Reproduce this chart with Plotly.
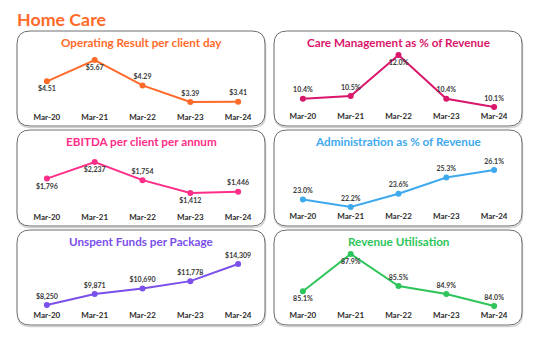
import plotly.graph_objects as go

W, H = 535, 341

# ---- data ----
periods = ["Mar-20", "Mar-21", "Mar-22", "Mar-23", "Mar-24"]
operating_result = [4.51, 5.67, 4.29, 3.39, 3.41]
care_mgmt_pct = [10.4, 10.5, 12.0, 10.4, 10.1]
ebitda = [1796, 2237, 1754, 1412, 1446]
admin_pct = [23.0, 22.2, 23.6, 25.3, 26.1]
unspent = [8250, 9871, 10690, 11778, 14309]
rev_util = [85.1, 87.9, 85.5, 84.9, 84.0]

FONT = "Lato"
TICK_COLOR = "#2b2b2b"
LABEL_COLOR = "#3a3a3a"

def dollars2(v):
    return f"${v:,.2f}"

def dollars0(v):
    return f"${v:,.0f}"

def pct(v):
    return f"{v:.1f}%"

T, B = "top center", "bottom center"

# panel layout (pixel geometry): column, box rows, extreme-point pixel rows, tick label row
panels = [
    dict(title="Operating Result per client day", vals=operating_result, fmt=dollars2,
         color="#FF6A2A", col=0, box=(31, 126), hi=60, lo=102, tick=117,
         pos=[B, B, T, T, T]),
    dict(title="Care Management as % of Revenue", vals=care_mgmt_pct, fmt=pct,
         color="#D9166A", col=1, box=(31, 126), hi=55, lo=107, tick=116,
         pos=[T, T, B, T, T]),
    dict(title="EBITDA per client per annum", vals=ebitda, fmt=dollars0,
         color="#FF2E88", col=0, box=(130, 226), hi=162, lo=193, tick=217,
         pos=[B, B, T, B, T]),
    dict(title="Administration as % of Revenue", vals=admin_pct, fmt=pct,
         color="#3FA9EE", col=1, box=(130, 226), hi=170, lo=207, tick=216,
         pos=[T, T, T, T, T]),
    dict(title="Unspent Funds per Package", vals=unspent, fmt=dollars0,
         color="#7A4FEA", col=0, box=(230, 325), hi=264, lo=305, tick=315,
         pos=[T, T, T, T, T]),
    dict(title="Revenue Utilisation", vals=rev_util, fmt=pct,
         color="#2DC55A", col=1, box=(230, 325), hi=254, lo=306, tick=315,
         pos=[B, B, T, T, T]),
]

COL_BOX = [(17, 265), (274, 522)]
COL_PLOT = [(23, 262), (279, 518)]

def px(x):
    return x / W

def py(y):
    return 1 - y / H

def rounded_rect(x0, y0, x1, y1, r):
    rx, ry = r / W, r / H
    X0, X1 = px(x0), px(x1)
    Y0, Y1 = py(y1), py(y0)  # bottom, top in paper units
    return (f"M {X0 + rx},{Y0} L {X1 - rx},{Y0} Q {X1},{Y0} {X1},{Y0 + ry} "
            f"L {X1},{Y1 - ry} Q {X1},{Y1} {X1 - rx},{Y1} "
            f"L {X0 + rx},{Y1} Q {X0},{Y1} {X0},{Y1 - ry} "
            f"L {X0},{Y0 + ry} Q {X0},{Y0} {X0 + rx},{Y0} Z")

fig = go.Figure()
shapes, annotations = [], []

for i, p in enumerate(panels, start=1):
    xa = "x" if i == 1 else f"x{i}"
    ya = "y" if i == 1 else f"y{i}"
    vals = p["vals"]
    vmin, vmax = min(vals), max(vals)
    top = p["hi"] - 8
    bottom = p["lo"] + 3
    upp = (vmax - vmin) / (p["lo"] - p["hi"])
    r1 = vmax + (p["hi"] - top) * upp
    r0 = vmin - (bottom - p["lo"]) * upp
    standoff = max(0, int(round(p["tick"] - bottom - 6)))

    fig.add_trace(go.Scatter(
        x=periods, y=vals, xaxis=xa, yaxis=ya,
        mode="lines+markers+text",
        line=dict(color=p["color"], width=2),
        marker=dict(color=p["color"], size=6),
        text=[p["fmt"](v) for v in vals],
        textposition=p["pos"],
        textfont=dict(family=FONT, size=7, color=LABEL_COLOR, weight="bold"),
        cliponaxis=False, showlegend=False, hoverinfo="skip",
    ))

    cx0, cx1 = COL_PLOT[p["col"]]
    xkey = "xaxis" if i == 1 else f"xaxis{i}"
    ykey = "yaxis" if i == 1 else f"yaxis{i}"
    fig.update_layout({
        xkey: dict(domain=[px(cx0), px(cx1)], anchor=ya, type="category",
                   range=[-0.5, 4.5], showgrid=False, zeroline=False,
                   showline=False, ticks="", ticklabelstandoff=standoff,
                   tickfont=dict(family=FONT, size=8, color=TICK_COLOR, weight="bold")),
        ykey: dict(domain=[py(bottom), py(top)], anchor=xa, range=[r0, r1],
                   visible=False, showgrid=False, zeroline=False),
    })

    bx0, bx1 = COL_BOX[p["col"]]
    by0, by1 = p["box"]
    # soft drop shadow under each card, then the card outline
    shapes.append(dict(type="path", xref="paper", yref="paper",
                       path=rounded_rect(bx0 + 0.5, by0 + 1.5, bx1 + 0.5, by1 + 1.5, 13),
                       line=dict(color="rgba(0,0,0,0.18)", width=1.5),
                       fillcolor="rgba(0,0,0,0)", layer="below"))
    shapes.append(dict(type="path", xref="paper", yref="paper",
                       path=rounded_rect(bx0, by0, bx1, by1, 13),
                       line=dict(color="#6e6e6e", width=1), fillcolor="white",
                       layer="below"))
    annotations.append(dict(text=p["title"], xref="paper", yref="paper",
                            x=px((bx0 + bx1) / 2), y=py(by0 + 11),
                            xanchor="center", yanchor="middle", showarrow=False,
                            font=dict(family=FONT, size=11.7, color=p["color"], weight="bold")))

annotations.append(dict(text="Home Care", xref="paper", yref="paper",
                        x=px(15), y=py(19), xanchor="left", yanchor="middle",
                        showarrow=False,
                        font=dict(family=FONT, size=17.8, color="#FF6A2A", weight="bold")))

fig.update_layout(width=W, height=H, margin=dict(l=0, r=0, t=0, b=0),
                  paper_bgcolor="white", plot_bgcolor="rgba(0,0,0,0)",
                  shapes=shapes, annotations=annotations)

fig.write_html("out.html")
